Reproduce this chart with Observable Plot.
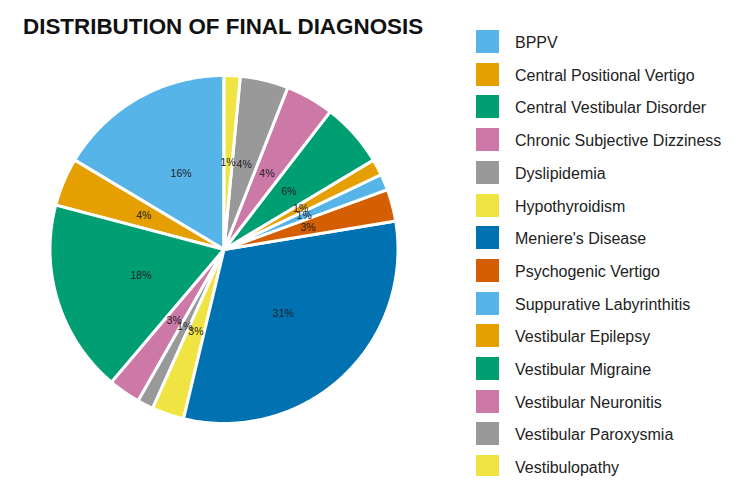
<!DOCTYPE html>
<html>
<head>
<meta charset="utf-8">
<script src="https://cdn.jsdelivr.net/npm/d3@7"></script>
<script src="https://cdn.jsdelivr.net/npm/@observablehq/plot@0.6"></script>
<style>
  html, body { margin: 0; padding: 0; background: #fff; }
  body { width: 750px; height: 490px; position: relative; overflow: hidden;
         font-family: "Liberation Sans", Arial, Helvetica, sans-serif; }
  #title { position: absolute; left: 23px; top: 16px; font-size: 22.4px; line-height: 22px;
           font-weight: bold; color: #111; white-space: nowrap; z-index: 2; }
  #chart { position: absolute; left: 0; top: 0; }
  #legend { position: absolute; left: 0; top: 0; width: 750px; height: 476px; overflow: hidden; z-index: 2; }
  .sw { position: absolute; left: 476px; width: 23px; height: 23px; }
  .lb { position: absolute; left: 515px; font-size: 16px; line-height: 23px; color: #222; white-space: nowrap; }
</style>
</head>
<body>
<div id="title">DISTRIBUTION OF FINAL DIAGNOSIS</div>
<div id="chart"></div>
<div id="legend"></div>
<script>
// Categories (alphabetical, drawn counter-clockwise from 12 o'clock)
const names = [
  "BPPV",
  "Central Positional Vertigo",
  "Central Vestibular Disorder",
  "Chronic Subjective Dizziness",
  "Dyslipidemia",
  "Hypothyroidism",
  "Meniere's Disease",
  "Psychogenic Vertigo",
  "Suppurative Labyrinthitis",
  "Vestibular Epilepsy",
  "Vestibular Migraine",
  "Vestibular Neuronitis",
  "Vestibular Paroxysmia",
  "Vestibulopathy"
];
// Number of patients per diagnosis (total 67)
const counts = [11, 3, 12, 2, 1, 2, 21, 2, 1, 1, 4, 3, 3, 1];
const colors = [
  "#56B4E9", "#E69F00", "#009E73", "#CC79A7", "#999999", "#F0E442", "#0072B2",
  "#D55E00", "#56B4E9", "#E69F00", "#009E73", "#CC79A7", "#999999", "#F0E442"
];

const total = d3.sum(counts);
const rows = names.map((name, i) => ({name, count: counts[i], label: Math.round(counts[i] / total * 100) + "%"}));

const arcs = d3.pie().value(d => d.count).sort(null).startAngle(0).endAngle(-2 * Math.PI)(rows);

// Build slice polygons in unit-radius data space (y up)
const poly = [];
const labels = [];
for (const a of arcs) {
  const n = Math.max(2, Math.ceil(Math.abs(a.endAngle - a.startAngle) / (Math.PI / 360)));
  poly.push({name: a.data.name, x: 0, y: 0});
  for (let k = 0; k <= n; k++) {
    const t = a.startAngle + (a.endAngle - a.startAngle) * k / n;
    poly.push({name: a.data.name, x: Math.sin(t), y: Math.cos(t)});
  }
  poly.push({name: a.data.name, x: 0, y: 0});
  const mid = (a.startAngle + a.endAngle) / 2;
  labels.push({name: a.data.name, label: a.data.label, x: 0.5 * Math.sin(mid), y: 0.5 * Math.cos(mid)});
}

const W = 460, H = 490, R = 174, CX = 223.5, CY = 249;

const plot = Plot.plot({
  width: W,
  height: H,
  margin: 0,
  x: {domain: [-CX / R, (W - CX) / R], axis: null},
  y: {domain: [-(H - CY) / R, CY / R], axis: null},
  color: {domain: names, range: colors},
  style: {fontFamily: "'Liberation Sans', Arial, sans-serif", background: "transparent"},
  marks: [
    Plot.line(poly, {x: "x", y: "y", z: "name", fill: "name", stroke: "white", strokeWidth: 3, strokeLinejoin: "miter", strokeMiterlimit: 4}),
    Plot.text(labels, {x: "x", y: "y", text: "label", fontSize: 10.5, fill: "#222"})
  ]
});
document.getElementById("chart").appendChild(plot);

// Legend
const color = plot.scale("color");
const leg = document.getElementById("legend");
names.forEach((n, i) => {
  const top = 30 + i * 32.7;
  const sw = document.createElement("div");
  sw.className = "sw";
  sw.style.top = top + "px";
  sw.style.background = color.range[color.domain.indexOf(n)];
  leg.appendChild(sw);
  const lb = document.createElement("div");
  lb.className = "lb";
  lb.style.top = (top + 1) + "px";
  lb.textContent = n;
  leg.appendChild(lb);
});
</script>
</body>
</html>
